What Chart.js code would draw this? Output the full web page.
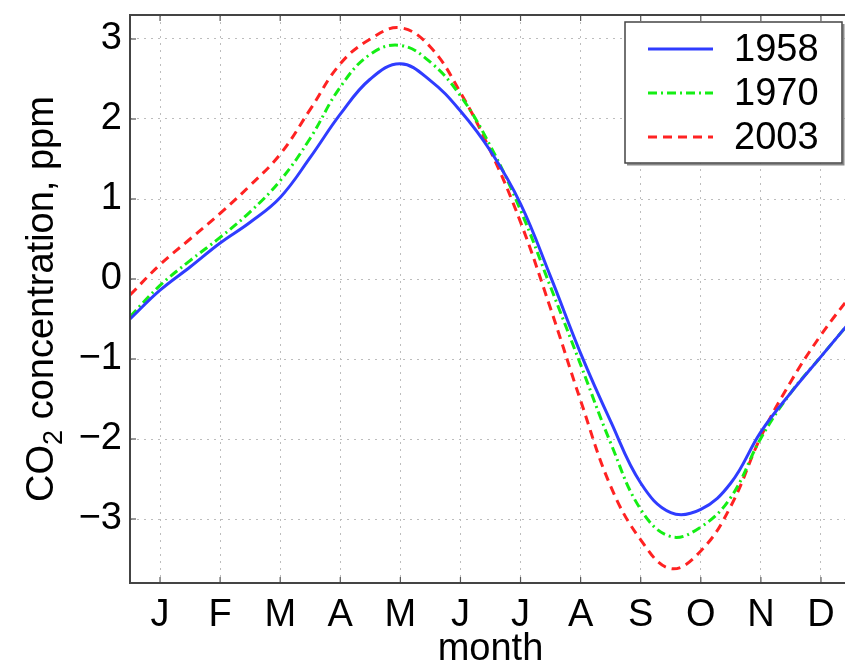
<!DOCTYPE html>
<html>
<head>
<meta charset="utf-8">
<script src="https://cdn.jsdelivr.net/npm/chart.js@4/dist/chart.umd.min.js"></script>
<style>
html,body{margin:0;padding:0;background:#fff;overflow:hidden;}
#wrap{width:880px;height:660px;position:relative;}
</style>
</head>
<body>
<div id="wrap"><canvas id="c" width="880" height="660"></canvas></div>
<script>
// ---- data ----
const monthLabels = ['J','F','M','A','M','J','J','A','S','O','N','D'];
const monthTicks = [1,2,3,4,5,6,7,8,9,10,11,12];
const yTicks = [-3,-2,-1,0,1,2,3];
const monthPos = [0.5,1,1.5,2,2.5,3,3.5,4,4.5,5,5.5,6,6.5,7,7.5,8,8.5,9,9.5,10,10.5,11,11.5,12,12.5];
const co2_1958 = [-0.50,-0.14,0.15,0.45,0.71,1.02,1.52,2.06,2.50,2.69,2.48,2.10,1.60,0.94,0.03,-0.93,-1.78,-2.55,-2.92,-2.88,-2.55,-1.91,-1.42,-0.97,-0.52];
const co2_1970 = [-0.47,-0.08,0.23,0.52,0.84,1.23,1.76,2.40,2.81,2.92,2.71,2.29,1.66,0.86,-0.10,-1.07,-2.05,-2.88,-3.22,-3.10,-2.73,-1.99,-1.42,-0.97,-0.52];
const co2_2003 = [-0.20,0.18,0.50,0.82,1.17,1.56,2.12,2.69,3.00,3.14,2.90,2.33,1.60,0.71,-0.37,-1.52,-2.59,-3.26,-3.62,-3.40,-2.84,-1.97,-1.28,-0.70,-0.20];
const seriesNames = ['1958','1970','2003'];

const FONT = '"Liberation Sans", Arial, Helvetica, sans-serif';
const colors = ['#2f3cff','#14ee14','#ff2222'];
const dashes = [[],[9,4,2,4],[9,6]];

function pts(ys){ return monthPos.map((x,i)=>({x:x,y:ys[i]})); }

const frame = {
  id:'frame',
  afterDraw(chart){
    const ctx = chart.ctx, a = chart.chartArea;
    const xs = chart.scales.x, ys = chart.scales.y;
    ctx.save();
    // inner tick marks
    ctx.strokeStyle = '#555'; ctx.lineWidth = 1.2;
    monthTicks.forEach(m=>{
      const px = xs.getPixelForValue(m);
      ctx.beginPath(); ctx.moveTo(px,a.bottom); ctx.lineTo(px,a.bottom-6); ctx.stroke();
      ctx.beginPath(); ctx.moveTo(px,a.top); ctx.lineTo(px,a.top+6); ctx.stroke();
    });
    yTicks.forEach(v=>{
      const py = ys.getPixelForValue(v);
      ctx.beginPath(); ctx.moveTo(a.left,py); ctx.lineTo(a.left+6,py); ctx.stroke();
      ctx.beginPath(); ctx.moveTo(a.right,py); ctx.lineTo(a.right-6,py); ctx.stroke();
    });
    // frame
    ctx.strokeStyle = '#444'; ctx.lineWidth = 2;
    ctx.strokeRect(a.left, a.top, a.right-a.left, a.bottom-a.top);
    // y axis title with subscript
    ctx.fillStyle = '#000';
    ctx.translate(40, (a.top+a.bottom)/2);
    ctx.rotate(-Math.PI/2);
    ctx.textBaseline = 'alphabetic';
    ctx.textAlign = 'left';
    const big = '38px '+FONT, small = '27px '+FONT;
    ctx.font = big; const w1 = ctx.measureText('CO').width;
    ctx.font = small; const w2 = ctx.measureText('2').width;
    ctx.font = big; const w3 = ctx.measureText(' concentration, ppm').width;
    const tot = w1+w2+w3;
    let x0 = -tot/2, base = 13;
    ctx.font = big; ctx.fillText('CO', x0, base);
    ctx.font = small; ctx.fillText('2', x0+w1, base+9);
    ctx.font = big; ctx.fillText(' concentration, ppm', x0+w1+w2, base);
    ctx.restore();
    // x title
    ctx.save();
    ctx.fillStyle = '#000';
    ctx.font = '38px '+FONT;
    ctx.textAlign = 'center'; ctx.textBaseline = 'alphabetic';
    ctx.fillText('month', (a.left+a.right)/2, 660);
    ctx.restore();
    // legend
    ctx.save();
    const L = 625, T = 22, W = 217, H = 141;
    ctx.fillStyle = '#fff';
    ctx.fillRect(L,T,W,H);
    ctx.strokeStyle = '#888'; ctx.lineWidth = 2;
    ctx.beginPath(); ctx.moveTo(L+2,T+H+1.5); ctx.lineTo(L+W+1.5,T+H+1.5); ctx.lineTo(L+W+1.5,T+2); ctx.stroke();
    ctx.strokeStyle = '#444'; ctx.lineWidth = 1.5;
    ctx.strokeRect(L,T,W,H);
    const rows = [49,93,137];
    chart.data.datasets.forEach((ds,i)=>{
      ctx.strokeStyle = ds.borderColor; ctx.lineWidth = 3;
      ctx.setLineDash(ds.borderDash||[]);
      ctx.beginPath(); ctx.moveTo(648,rows[i]); ctx.lineTo(713,rows[i]); ctx.stroke();
      ctx.setLineDash([]);
      ctx.fillStyle = '#000'; ctx.font = '38px '+FONT;
      ctx.textAlign = 'left'; ctx.textBaseline = 'middle';
      ctx.fillText(ds.label, 734, rows[i]+2);
    });
    ctx.restore();
  }
};

new Chart(document.getElementById('c'), {
  type:'line',
  data:{
    datasets:[co2_1958,co2_1970,co2_2003].map((s,i)=>({
      label: seriesNames[i],
      data: pts(s),
      borderColor: colors[i],
      borderWidth: 3,
      borderDash: dashes[i],
      pointRadius: 0,
      fill: false,
      tension: 0.4
    }))
  },
  options:{
    responsive:false,
    animation:false,
    devicePixelRatio:1,
    layout:{padding:{left:0,right:29,top:15,bottom:0}},
    plugins:{legend:{display:false},tooltip:{enabled:false}},
    scales:{
      x:{
        type:'linear', min:0.5, max:12.5,
        afterBuildTicks(s){ s.ticks = monthTicks.map(v=>({value:v})); },
        afterFit(s){ s.height = 77; s.paddingLeft = 0; s.paddingRight = 0; },
        grid:{color:'#bdbdbd', lineWidth:1, drawTicks:false},
        border:{display:false, dash:[2,5]},
        ticks:{padding:10, color:'#000', font:{family:FONT,size:38}, maxRotation:0, autoSkip:false,
          callback:(v)=>monthLabels[v-1]}
      },
      y:{
        type:'linear', min:-3.8, max:3.3,
        afterBuildTicks(s){ s.ticks = yTicks.map(v=>({value:v})); },
        afterFit(s){ s.width = 130; s.paddingTop = 0; s.paddingBottom = 0; },
        grid:{color:'#bdbdbd', lineWidth:1, drawTicks:false},
        border:{display:false, dash:[2,5]},
        ticks:{padding:8, color:'#000', font:{family:FONT,size:38}, autoSkip:false,
          callback:(v)=> v<0 ? '\u2212'+Math.abs(v) : String(v)}
      }
    }
  },
  plugins:[frame]
});
</script>
</body>
</html>
